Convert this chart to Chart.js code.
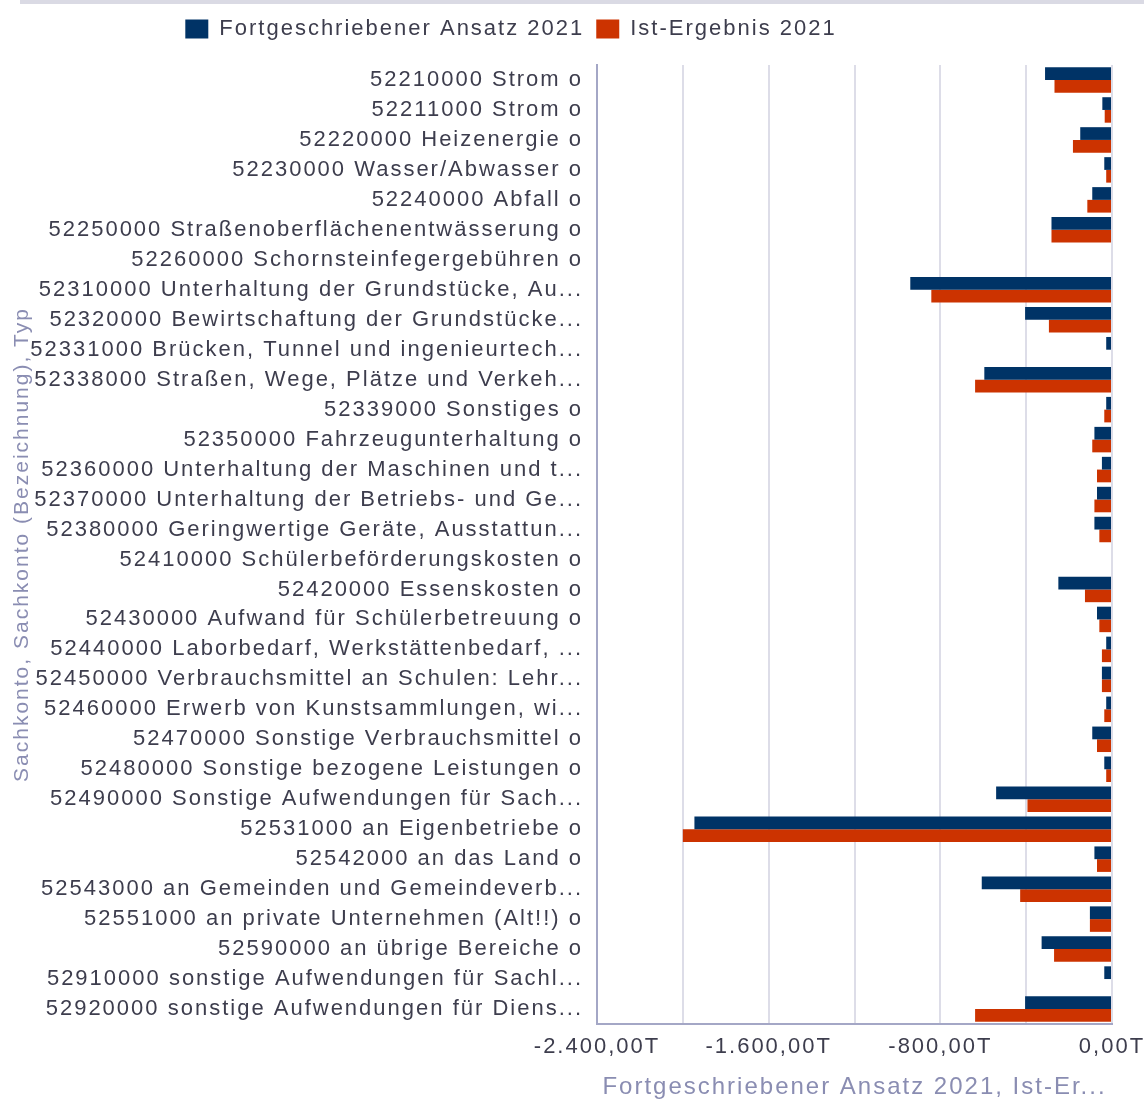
<!DOCTYPE html>
<html>
<head>
<meta charset="utf-8">
<script src="https://cdn.jsdelivr.net/npm/chart.js@4.4.1/dist/chart.umd.min.js"></script>
<style>
  body { margin: 0; background: #fff; }
  #wrap { position: relative; width: 1144px; height: 1102px; }
  #topline { position: absolute; left: 20px; right: 0; top: 0; height: 4px; background: #dadae4; }
</style>
</head>
<body>
<div id="wrap">
  <div id="topline"></div>
  <canvas id="chart" width="1144" height="1102"></canvas>
</div>
<script>
// Kategorien (Sachkonten) wie im Bild abgeschnitten
const categories = [
  '52210000 Strom o',
  '52211000 Strom o',
  '52220000 Heizenergie o',
  '52230000 Wasser/Abwasser o',
  '52240000 Abfall o',
  '52250000 Straßenoberflächenentwässerung o',
  '52260000 Schornsteinfegergebühren o',
  '52310000 Unterhaltung der Grundstücke, Au...',
  '52320000 Bewirtschaftung der Grundstücke...',
  '52331000 Brücken, Tunnel und ingenieurtech...',
  '52338000 Straßen, Wege, Plätze und Verkeh...',
  '52339000 Sonstiges o',
  '52350000 Fahrzeugunterhaltung o',
  '52360000 Unterhaltung der Maschinen und t...',
  '52370000 Unterhaltung der Betriebs- und Ge...',
  '52380000 Geringwertige Geräte, Ausstattun...',
  '52410000 Schülerbeförderungskosten o',
  '52420000 Essenskosten o',
  '52430000 Aufwand für Schülerbetreuung o',
  '52440000 Laborbedarf, Werkstättenbedarf, ...',
  '52450000 Verbrauchsmittel an Schulen: Lehr...',
  '52460000 Erwerb von Kunstsammlungen, wi...',
  '52470000 Sonstige Verbrauchsmittel o',
  '52480000 Sonstige bezogene Leistungen o',
  '52490000 Sonstige Aufwendungen für Sach...',
  '52531000 an Eigenbetriebe o',
  '52542000 an das Land o',
  '52543000 an Gemeinden und Gemeindeverb...',
  '52551000 an private Unternehmen (Alt!!) o',
  '52590000 an übrige Bereiche o',
  '52910000 sonstige Aufwendungen für Sachl...',
  '52920000 sonstige Aufwendungen für Diens...'
];

// Werte in Tausend (T)
const ansatz2021 = [
  -312, -45, -148, -36, -92, -282, 0, -940, -405, -27, -595,
  -27, -82, -47, -70, -82, 0, -250, -70, -27, -47, -27,
  -92, -36, -540, -1946, -82, -607, -103, -328, -36, -405
];
const ist2021 = [
  -268, -34, -182, -27, -115, -282, 0, -842, -294, 0, -638,
  -36, -92, -70, -82, -59, 0, -126, -59, -47, -47, -36,
  -70, -27, -394, -2000, -70, -428, -103, -270, 0, -638
];

const xMin = -2400;
const xMax = 0;
const xStep = 400;
const labelEvery = 800;

const textColor = '#3d3d4d';
const titleColor = '#8a8db2';
const fontFamily = '"Liberation Sans", Arial, sans-serif';

function fmtT(v) {
  const parts = Math.abs(v).toFixed(2).split('.');
  const intPart = parts[0].replace(/\B(?=(\d{3})+(?!\d))/g, '.');
  return (v < 0 ? '-' : '') + intPart + ',' + parts[1] + 'T';
}

// Laufweite der Schrift wie im Original
const spacingPlugin = {
  id: 'spacing',
  beforeUpdate(chart) { chart.ctx.letterSpacing = '2px'; },
  beforeLayout(chart) { chart.ctx.letterSpacing = '2px'; },
  beforeDraw(chart) { chart.ctx.letterSpacing = '2px'; },
  afterLayout(chart) {
    // Legende etwas nach links und oben versetzen
    const lg = chart.legend;
    lg.left -= 45;
    lg.right -= 45;
    lg.top -= 15;
    lg.bottom -= 15;
  }
};

const ctx = document.getElementById('chart').getContext('2d');
const chart = new Chart(ctx, {
  type: 'bar',
  data: {
    labels: categories,
    datasets: [{
      label: 'Fortgeschriebener Ansatz 2021',
      data: ansatz2021,
      backgroundColor: '#003366',
      barPercentage: 1,
      categoryPercentage: 0.85
    }, {
      label: 'Ist-Ergebnis 2021',
      data: ist2021,
      backgroundColor: '#cc3300',
      barPercentage: 1,
      categoryPercentage: 0.85
    }]
  },
  options: {
    indexAxis: 'y',
    responsive: false,
    animation: false,
    layout: { padding: { top: 21, right: 32, bottom: 0, left: 0 } },
    plugins: {
      legend: {
        position: 'top',
        labels: {
          boxWidth: 23,
          boxHeight: 19,
          padding: 12,
          color: textColor,
          font: { family: fontFamily, size: 22 }
        }
      },
      tooltip: { enabled: false }
    },
    scales: {
      x: {
        min: xMin,
        max: xMax,
        ticks: {
          stepSize: xStep,
          autoSkip: false,
          maxRotation: 0,
          padding: 10,
          color: textColor,
          font: { family: fontFamily, size: 22 },
          callback: v => (v % labelEvery === 0 ? fmtT(v) : '')
        },
        grid: { color: '#dddde8', lineWidth: 2, drawTicks: false },
        border: { color: '#a4a7c6', width: 2 },
        title: {
          display: true,
          text: 'Fortgeschriebener Ansatz 2021, Ist-Er...',
          color: titleColor,
          padding: { top: 4, bottom: 0 },
          font: { family: fontFamily, size: 24 }
        },
        afterFit: s => {
          s.height = 78;
          s.paddingLeft = 0;
          s.paddingRight = 0;
        }
      },
      y: {
        ticks: {
          padding: 14,
          color: textColor,
          font: { family: fontFamily, size: 22 }
        },
        grid: { display: false, drawTicks: false },
        border: { color: '#a4a7c6', width: 2 },
        title: {
          display: true,
          text: 'Sachkonto, Sachkonto (Bezeichnung), Typ',
          color: titleColor,
          padding: { top: 10, bottom: 0 },
          font: { family: fontFamily, size: 21 }
        },
        afterFit: s => { s.width = 597; }
      }
    }
  },
  plugins: [spacingPlugin]
});
</script>
</body>
</html>
